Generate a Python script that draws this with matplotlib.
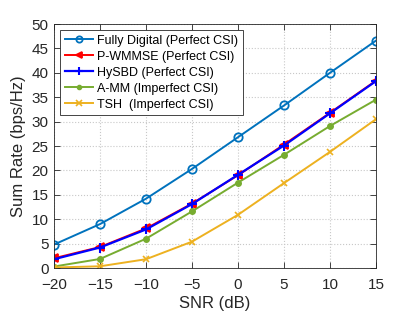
import numpy as np
import matplotlib
matplotlib.use('Agg')
import matplotlib.pyplot as plt

plt.rcParams['font.family'] = ['Liberation Sans', 'DejaVu Sans']

snr = [-20, -15, -10, -5, 0, 5, 10, 15]
fully_digital = [4.8, 9.0, 14.2, 20.3, 26.8, 33.3, 40.0, 46.6]
p_wmmse = [2.0, 4.3, 8.1, 13.2, 19.0, 25.3, 31.8, 38.4]
hysbd = [1.8, 4.2, 7.9, 13.1, 19.1, 25.1, 31.7, 38.3]
a_mm = [0.3, 1.85, 6.0, 11.6, 17.5, 23.2, 29.1, 34.5]
tsh = [0.1, 0.35, 1.8, 5.4, 10.9, 17.4, 23.8, 30.5]

fig = plt.figure(figsize=(4.15, 3.12), dpi=100)
ax = fig.add_axes([54/415, 1-268/312, (376-54)/415, (268-24)/312])

ax.plot(snr, fully_digital, '-o', color='#0072BD', lw=1.4, ms=6, mfc='none', mew=1.3,
        label='Fully Digital (Perfect CSI)')
ax.plot(snr, p_wmmse, '-<', color='red', lw=1.4, ms=6, mew=1.3,
        label='P-WMMSE (Perfect CSI)')
ax.plot(snr, hysbd, '-+', color='blue', lw=1.6, ms=7, mew=1.5,
        label='HySBD (Perfect CSI)')
ax.plot(snr, a_mm, '-o', color='#77AC30', lw=1.4, ms=4,
        label='A-MM (Imperfect CSI)')
ax.plot(snr, tsh, '-x', color='#EDB120', lw=1.4, ms=5, mew=1.2,
        label='TSH  (Imperfect CSI)')

ax.set_xlim(-20, 15)
ax.set_ylim(0, 50)
ax.set_xticks(snr)
ax.set_yticks(range(0, 51, 5))
ax.grid(True, linestyle=':', color='#c8c8c8', lw=0.8)
ax.tick_params(direction='in', top=True, right=True, labelsize=11, colors='#262626',
               length=4, width=0.6)
ax.tick_params(axis='x', pad=7)
ax.tick_params(axis='y', pad=4)
for s in ax.spines.values():
    s.set_color('#262626')
    s.set_linewidth(0.6)
ax.set_xlabel('SNR (dB)', fontsize=12, color='#262626', labelpad=3)
ax.set_ylabel('Sum Rate (bps/Hz)', fontsize=12, color='#262626')

leg = ax.legend(loc='upper left', fontsize=9, fancybox=False, framealpha=1,
                edgecolor='#262626', handlelength=2.3, borderaxespad=0.5,
                labelspacing=0.32, handletextpad=0.3, borderpad=0.35,
                markerscale=0.75)
leg.get_frame().set_linewidth(0.6)

fig.savefig('out.png', dpi=100)
